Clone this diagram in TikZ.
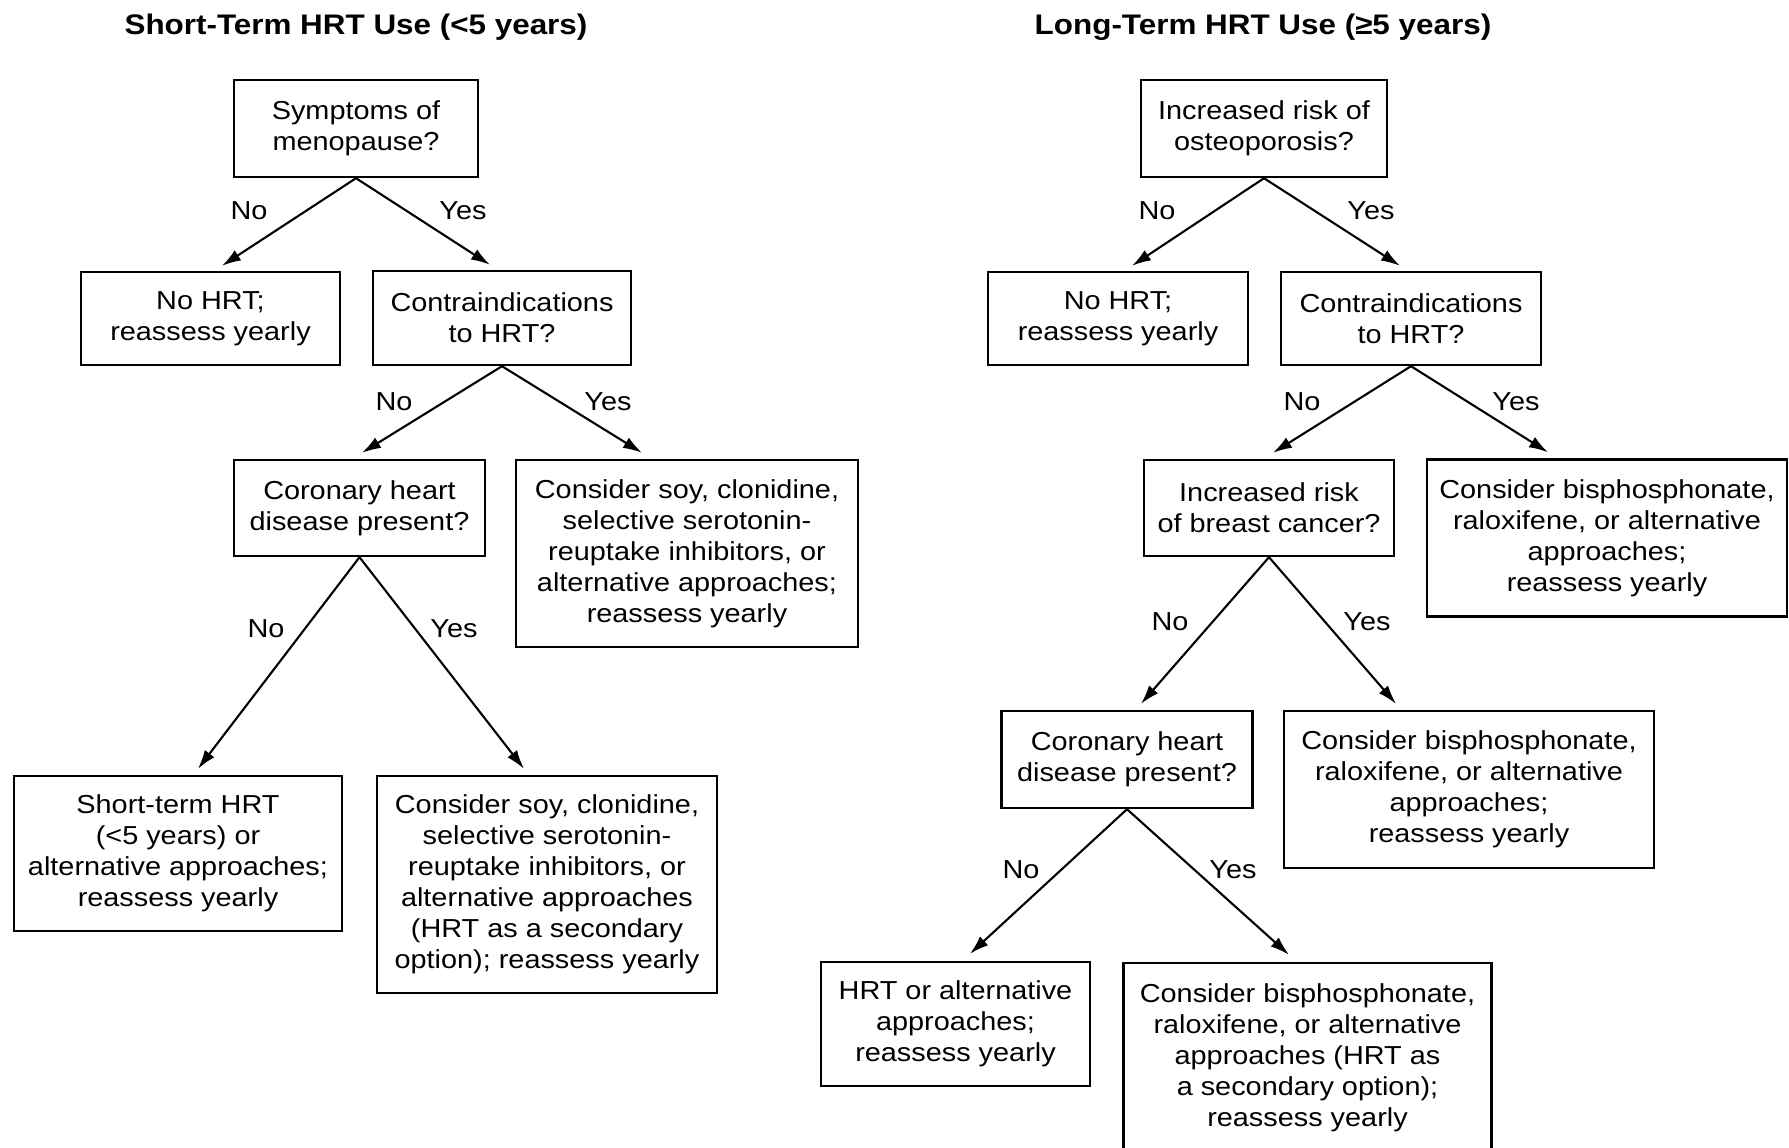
\documentclass[tikz,border=0pt]{standalone}
\usepackage{fontspec}
\setmainfont{Liberation Sans}[FakeStretch=1.11]
\usetikzlibrary{arrows.meta}
\tikzset{
  box/.style={draw=black, line width=2.4pt, align=center, inner sep=0pt,
    font=\fontsize{26}{31}\selectfont},
  lbl/.style={inner sep=0pt, font=\fontsize{26}{31}\selectfont},
  ttl/.style={inner sep=0pt, anchor=base, font=\fontsize{28.3}{32}\selectfont\bfseries},
  arr/.style={line width=2.1pt, -{Latex[length=19pt,width=12pt]}}
}
\begin{document}
\begin{tikzpicture}[x=1pt,y=-1pt]
\useasboundingbox[fill=white] (0,0) rectangle (1789,1148);

% titles
\node[ttl] (t1) at (356,35) {Short-Term HRT Use (<5 years)};
\node[ttl] (t2) at (1263,35) {Long-Term HRT Use (≥5 years)};

% left tree
\node[box, minimum width=244pt, minimum height=97pt] (A) at (356,128.5) {Symptoms of\\menopause?};
\node[box, minimum width=259pt, minimum height=93pt] (B) at (210.5,318.5) {No HRT;\\reassess yearly};
\node[box, minimum width=258pt, minimum height=94pt] (C) at (502,318) {Contraindications\\to HRT?};
\node[box, minimum width=251pt, minimum height=96pt] (D) at (359.5,508) {Coronary heart\\disease present?};
\node[box, minimum width=342pt, minimum height=187pt] (E) at (687,553.5) {Consider soy, clonidine,\\selective serotonin-\\reuptake inhibitors, or\\alternative approaches;\\reassess yearly};
\node[box, minimum width=328pt, minimum height=155pt] (F) at (178,853.5) {Short-term HRT\\(<5 years) or\\alternative approaches;\\reassess yearly};
\node[box, minimum width=340pt, minimum height=217pt] (G) at (547,884.5) {Consider soy, clonidine,\\selective serotonin-\\reuptake inhibitors, or\\alternative approaches\\(HRT as a secondary\\option); reassess yearly};

% right tree
\node[box, minimum width=246pt, minimum height=97pt] (H) at (1264,128.5) {Increased risk of\\osteoporosis?};
\node[box, minimum width=260pt, minimum height=93pt] (I) at (1118,318.5) {No HRT;\\reassess yearly};
\node[box, minimum width=260pt, minimum height=93pt] (J) at (1411,318.5) {Contraindications\\to HRT?};
\node[box, minimum width=250pt, minimum height=96pt] (K) at (1269,508) {Increased risk\\of breast cancer?};
\node[box, minimum width=360pt, minimum height=157pt] (L) at (1607,538) {Consider bisphosphonate,\\raloxifene, or alternative\\approaches;\\reassess yearly};
\node[box, minimum width=251pt, minimum height=97pt] (M) at (1127,759.5) {Coronary heart\\disease present?};
\node[box, minimum width=370pt, minimum height=157pt] (N) at (1469,789.5) {Consider bisphosphonate,\\raloxifene, or alternative\\approaches;\\reassess yearly};
\node[box, minimum width=269pt, minimum height=124pt] (O) at (955.5,1024) {HRT or alternative\\approaches;\\reassess yearly};
\node[box, minimum width=368pt, minimum height=190pt] (P) at (1307.5,1058) {Consider bisphosphonate,\\raloxifene, or alternative\\approaches (HRT as\\a secondary option);\\reassess yearly};

% arrows left
\draw[arr] (A.south) -- ([xshift=11.5pt,yshift=5pt]B.north);
\draw[arr] (A.south) -- ([xshift=-12pt,yshift=5pt]C.north);
\draw[arr] (C.south) -- ([xshift=2.5pt,yshift=6pt]D.north);
\draw[arr] (C.south) -- ([xshift=-45pt,yshift=6pt]E.north);
\draw[arr] (D.south) -- ([xshift=20pt,yshift=6pt]F.north);
\draw[arr] (D.south) -- ([xshift=-23pt,yshift=6pt]G.north);

% arrows right
\draw[arr] (H.south) -- ([xshift=14pt,yshift=5pt]I.north);
\draw[arr] (H.south) -- ([xshift=-11pt,yshift=5pt]J.north);
\draw[arr] (J.south) -- ([xshift=4pt,yshift=6pt]K.north);
\draw[arr] (J.south) -- ([xshift=-59pt,yshift=6pt]L.north);
\draw[arr] (K.south) -- ([xshift=14pt,yshift=6pt]M.north);
\draw[arr] (K.south) -- ([xshift=-73pt,yshift=6pt]N.north);
\draw[arr] (M.south) -- ([xshift=14.5pt,yshift=7pt]O.north);
\draw[arr] (M.south) -- ([xshift=-18.5pt,yshift=7pt]P.north);

% labels left
\node[lbl] (n1) at (249,211) {No};
\node[lbl] (y1) at (463,211) {Yes};
\node[lbl] (n2) at (394,402) {No};
\node[lbl] (y2) at (608,402) {Yes};
\node[lbl] (n3) at (266,629) {No};
\node[lbl] (y3) at (454,629) {Yes};

% labels right
\node[lbl] (n4) at (1157,211) {No};
\node[lbl] (y4) at (1371,211) {Yes};
\node[lbl] (n5) at (1302,402) {No};
\node[lbl] (y5) at (1516,402) {Yes};
\node[lbl] (n6) at (1170,622) {No};
\node[lbl] (y6) at (1367,622) {Yes};
\node[lbl] (n7) at (1021,870) {No};
\node[lbl] (y7) at (1233,870) {Yes};
\end{tikzpicture}
\end{document}
